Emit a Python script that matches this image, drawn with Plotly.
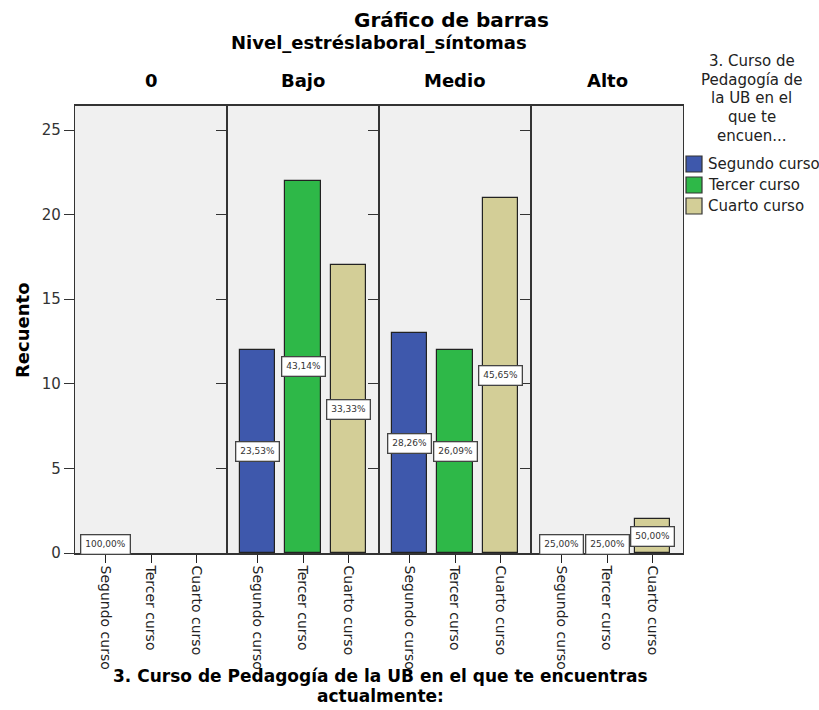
import plotly.graph_objects as go
from plotly.subplots import make_subplots

# Panels (stress level) and courses
niveles = ["0", "Bajo", "Medio", "Alto"]
cursos = ["Segundo curso", "Tercer curso", "Cuarto curso"]
colores = ["#3E58AC", "#2EB848", "#D3CE97"]

# Counts per course inside each stress-level panel (None = no cases)
segundo = [1, 12, 13, 1]
tercer = [None, 22, 12, 1]
cuarto = [None, 17, 21, 2]
series = [segundo, tercer, cuarto]

y_ticks = [0, 5, 10, 15, 20, 25]

FONT = "DejaVu Sans, Verdana, sans-serif"
W, H = 819, 710
ML, MR, MT, MB = 75, 136, 106, 157
PW, PH = W - ML - MR, H - MT - MB


def px(xp):
    return (xp - ML) / PW


def py(yp):
    return (H - MB - yp) / PH


fig = make_subplots(rows=1, cols=4, shared_yaxes=True, horizontal_spacing=0)

for p, nivel in enumerate(niveles):
    total = sum(s[p] or 0 for s in series)
    xref = "x" if p == 0 else f"x{p + 1}"
    for i, (curso, vals, col) in enumerate(zip(cursos, series, colores)):
        v = vals[p]
        fig.add_trace(
            go.Bar(
                x=[i], y=[v], width=0.78, name=curso, showlegend=False,
                marker=dict(color=col, line=dict(color="#222222", width=1.2)),
                hoverinfo="skip",
            ),
            row=1, col=p + 1,
        )
        if v:
            pct = f"{100 * v / total:.2f}".replace(".", ",") + "%"
            fig.add_annotation(
                x=i, y=v / 2, xref=xref, yref="y", text=pct, showarrow=False,
                font=dict(family=FONT, size=9, color="#333333"),
                bgcolor="white", bordercolor="#444444", borderwidth=1.3, borderpad=4,
            )
    # panel header
    fig.add_annotation(
        x=1, y=py(80), xref=xref, yref="paper", yanchor="middle",
        text=f"<b>{nivel}</b>", showarrow=False,
        font=dict(family=FONT, size=18, color="black"),
    )

for p in range(4):
    fig.update_xaxes(
        row=1, col=p + 1, range=[-0.68, 2.68], tickvals=[0, 1, 2], ticktext=cursos,
        tickangle=90, ticks="outside", ticklen=8, tickcolor="#222222", tickwidth=1.2,
        showline=True, mirror=True, linecolor="#333333", linewidth=1.5,
        showgrid=False, zeroline=False,
        tickfont=dict(family=FONT, size=14, color="#222222"),
    )

fig.update_yaxes(
    range=[0, 26.42], tickvals=y_ticks, ticks="outside", ticklen=10,
    tickcolor="#333333", tickwidth=1.2, showgrid=False, zeroline=False,
    showline=True, mirror=True, linecolor="#333333", linewidth=1.2,
    tickfont=dict(family=FONT, size=15, color="#333333"),
)

# Titles
def text(x, y, s, size, bold=True, anchor="center", angle=0, color="black"):
    fig.add_annotation(
        x=x, y=y, xref="paper", yref="paper", text=f"<b>{s}</b>" if bold else s,
        showarrow=False, xanchor=anchor, yanchor="middle", textangle=angle,
        font=dict(family=FONT, size=size, color=color),
    )


text(px(451), py(20), "Gráfico de barras", 20)
text(0.5, py(42), "Nivel_estréslaboral_síntomas", 18)
text(px(380), py(676), "3. Curso de Pedagogía de la UB en el que te encuentras", 17)
text(px(380), py(696), "actualmente:", 17)
text(px(22), py(330), "Recuento", 18, angle=-90)

# Legend block
leg_title = ["3. Curso de", "Pedagogía de", "la UB en el", "que te", "encuen..."]
for k, line in enumerate(leg_title):
    text(px(752), py(61 + 18.7 * k), line, 15, bold=False, color="#222222")

for k, (curso, col) in enumerate(zip(cursos, colores)):
    yc = 164 + 21 * k
    fig.add_shape(
        type="rect", xref="paper", yref="paper",
        x0=px(686), x1=px(702), y0=py(yc - 8), y1=py(yc + 8),
        fillcolor=col, line=dict(color="#333333", width=1.2),
    )
    text(px(706), py(yc), curso, 15, bold=False, anchor="left", color="#222222")

fig.update_layout(
    width=W, height=H,
    margin=dict(l=ML, r=MR, t=MT, b=MB),
    plot_bgcolor="#F0F0F0", paper_bgcolor="white",
    barmode="overlay", bargap=0, showlegend=False,
    font=dict(family=FONT, color="black"),
)

fig.write_html("out.html")
